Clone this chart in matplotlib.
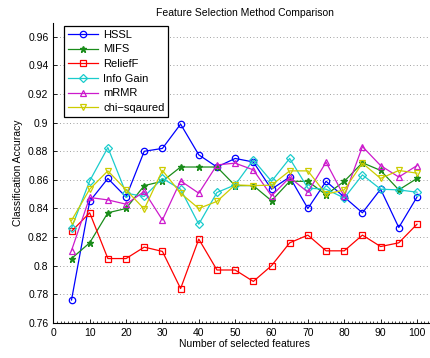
import numpy as np
import matplotlib
matplotlib.use('Agg')
import matplotlib.pyplot as plt
from matplotlib.ticker import MultipleLocator

plt.rcParams['font.family'] = ['Liberation Sans', 'DejaVu Sans']

# number of selected features
n_feat = [5, 10, 15, 20, 25, 30, 35, 40, 45, 50, 55, 60, 65, 70, 75, 80, 85, 90, 95, 100]

hssl = [0.776, 0.845, 0.861, 0.848, 0.880, 0.882, 0.899, 0.8775, 0.869, 0.875,
        0.8725, 0.8535, 0.862, 0.840, 0.859, 0.848, 0.837, 0.8535, 0.8267, 0.848]
mifs = [0.805, 0.816, 0.837, 0.840, 0.856, 0.859, 0.869, 0.869, 0.869, 0.856,
        0.856, 0.8454, 0.859, 0.859, 0.8496, 0.859, 0.872, 0.8666, 0.853, 0.861]
relieff = [0.824, 0.837, 0.805, 0.805, 0.813, 0.810, 0.784, 0.8186, 0.797, 0.797,
           0.789, 0.800, 0.816, 0.8214, 0.8104, 0.8104, 0.8214, 0.8134, 0.816, 0.829]
info_gain = [0.8263, 0.8593, 0.8826, 0.8507, 0.8484, 0.861, 0.8535, 0.829, 0.8512, 0.8565,
             0.874, 0.859, 0.875, 0.8542, 0.8535, 0.8473, 0.8635, 0.8535, 0.853, 0.8514]
mrmr = [0.8106, 0.8477, 0.846, 0.843, 0.8519, 0.832, 0.8593, 0.8507, 0.8705, 0.8717,
        0.867, 0.8488, 0.8617, 0.8514, 0.8724, 0.8484, 0.8833, 0.870, 0.862, 0.870]
chi_sq = [0.8316, 0.8535, 0.8663, 0.853, 0.8396, 0.8666, 0.8507, 0.840, 0.845, 0.8565,
          0.856, 0.8563, 0.8663, 0.8663, 0.850, 0.853, 0.8717, 0.861, 0.8666, 0.8647]

series = [
    ('HSSL', hssl, 'o', (0, 0, 1), 4.6),
    ('MIFS', mifs, '*', (0.1, 0.55, 0.1), 4.5),
    ('ReliefF', relieff, 's', (1, 0, 0), 3.8),
    ('Info Gain', info_gain, 'D', (0.1, 0.8, 0.8), 3.8),
    ('mRMR', mrmr, '^', (0.8, 0.1, 0.8), 5.0),
    ('chi\u2212sqaured', chi_sq, 'v', (0.8, 0.8, 0), 5.0),
]

fig = plt.figure(figsize=(4.30, 3.58), dpi=100)
ax = fig.add_axes([0.124, 0.098, 0.888, 0.839])

for name, vals, mk, col, ms in series:
    if mk == '*':
        ax.plot(n_feat, vals, marker=mk, color=col, lw=0.9, ms=ms, label=name)
    else:
        ax.plot(n_feat, vals, marker=mk, color=col, lw=0.9, ms=ms,
                mfc='none', mew=0.9, label=name)

ax.set_xlim(0, 105)
ax.set_ylim(0.76, 0.97)
ax.set_xticks(range(0, 101, 10))
ax.set_yticks(np.arange(0.76, 0.961, 0.02))
ax.set_yticklabels(['0.76', '0.78', '0.8', '0.82', '0.84', '0.86', '0.88',
                    '0.9', '0.92', '0.94', '0.96'])
ax.xaxis.set_minor_locator(MultipleLocator(1))
ax.tick_params(direction='in', labelsize=7.5, length=3, width=0.6)
ax.tick_params(which='minor', direction='in', length=1.5, width=0.5)
ax.yaxis.grid(True, linestyle=(0, (1, 3)), color='0.5', lw=0.6)
ax.spines['top'].set_visible(False)
ax.spines['right'].set_visible(False)
ax.spines['left'].set_linewidth(0.8)
ax.spines['bottom'].set_linewidth(0.8)

ax.set_xlabel('Number of selected features', fontsize=7.5, labelpad=1)
ax.set_ylabel('Classification Accuracy', fontsize=7.5, labelpad=4)
fig.text(0.57, 0.965, 'Feature Selection Method Comparison', fontsize=7.5,
         ha='center', va='center')

leg = ax.legend(loc='upper left', bbox_to_anchor=(0.02, 1.0), fontsize=8,
                handlelength=2.7, fancybox=False, edgecolor='black',
                framealpha=1, borderpad=0.35, labelspacing=0.42,
                handletextpad=0.45, borderaxespad=0.3)
leg.get_frame().set_linewidth(0.9)

fig.savefig('out.png', dpi=100)
